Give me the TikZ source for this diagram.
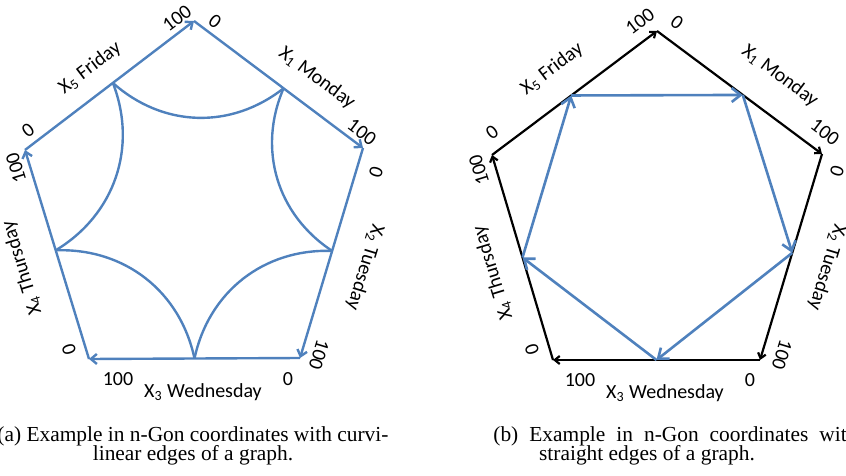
\documentclass[tikz,border=0pt]{standalone}
\usepackage{fontspec}
\setmainfont{Liberation Serif}
\newfontfamily\calfont{Carlito}
\usetikzlibrary{arrows.meta, calc}
\definecolor{dayBlue}{HTML}{4F81BD}

\begin{document}
\begin{tikzpicture}[x=0.5pt, y=-0.5pt,
    lab/.style={font=\calfont\fontsize{10}{12}\selectfont, inner sep=0pt},
    side/.style={dayBlue, line width=1.2pt, -{Straight Barb[length=3pt, width=5pt]}},
    blackside/.style={black, line width=1.1pt, -{Straight Barb[length=2.5pt, width=4pt]}},
    curve/.style={dayBlue, line width=1.2pt},
    link/.style={dayBlue, line width=1.3pt, -{Straight Barb[length=4.5pt, width=7pt]}},
    captext/.style={font=\fontsize{10.7}{12}\selectfont, inner sep=0pt}]
  \useasboundingbox (0,0) rectangle (846,476);
  \clip (0,0) rectangle (846,476);

  % (a) curvilinear edges
  \coordinate (L1) at (194,21);
  \coordinate (L2) at (363,148);
  \coordinate (L3) at (300,358);
  \coordinate (L4) at (89,359);
  \coordinate (L5) at (25,150);
  \draw[side] (L1) -- (L2);
  \draw[side] (L2) -- (L3);
  \draw[side] (L3) -- (L4);
  \draw[side] (L4) -- (L5);
  \draw[side] (L5) -- (L1);
  \coordinate (lmonmid) at ($(L1)!0.53!(L2)$);
  \coordinate (ltuemid) at ($(L2)!0.49!(L3)$);
  \coordinate (lwedmid) at ($(L3)!0.5!(L4)$);
  \coordinate (lthumid) at ($(L4)!0.52!(L5)$);
  \coordinate (lfrimid) at ($(L5)!0.52!(L1)$);
  \draw[curve] (lfrimid) to[bend right=40] (lmonmid);
  \draw[curve] (lmonmid) to[bend right=40] (ltuemid);
  \draw[curve] (ltuemid) to[bend right=40] (lwedmid);
  \draw[curve] (lwedmid) to[bend right=40] (lthumid);
  \draw[curve] (lthumid) to[bend right=40] (lfrimid);

  \node[lab, rotate=-37] (lmon) at (317,78) {X\textsubscript{1} Monday};
  \node[lab, rotate=-107] (ltue) at (365,267) {X\textsubscript{2} Tuesday};
  \node[lab] (lwed) at (203,392) {X\textsubscript{3} Wednesday};
  \node[lab, rotate=107] (lthu) at (22,268) {X\textsubscript{4} Thursday};
  \node[lab, rotate=37] (lfri) at (90,68) {X\textsubscript{5} Friday};
  \node[lab, rotate=-37] (lmon0) at (215,21) {0};
  \node[lab, rotate=-37] (lmon100) at (362,132) {100};
  \node[lab, rotate=-107] (ltue0) at (376,172) {0};
  \node[lab, rotate=-107] (ltue100) at (319,355) {100};
  \node[lab] (lwed0) at (288,379) {0};
  \node[lab] (lwed100) at (118,379) {100};
  \node[lab, rotate=107] (lthu0) at (69,350) {0};
  \node[lab, rotate=107] (lthu100) at (16,168) {100};
  \node[lab, rotate=37] (lfri0) at (28,130) {0};
  \node[lab, rotate=37] (lfri100) at (177,18) {100};

  % (b) straight edges
  \coordinate (R1) at (657,31);
  \coordinate (R2) at (822,154);
  \coordinate (R3) at (760,360);
  \coordinate (R4) at (553,360);
  \coordinate (R5) at (492,155);
  \draw[blackside] (R1) -- (R2);
  \draw[blackside] (R2) -- (R3);
  \draw[blackside] (R3) -- (R4);
  \draw[blackside] (R4) -- (R5);
  \draw[blackside] (R5) -- (R1);
  \coordinate (rmonmid) at ($(R1)!0.52!(R2)$);
  \coordinate (rtuemid) at ($(R2)!0.48!(R3)$);
  \coordinate (rwedmid) at ($(R3)!0.5!(R4)$);
  \coordinate (rthumid) at ($(R4)!0.5!(R5)$);
  \coordinate (rfrimid) at ($(R5)!0.48!(R1)$);
  \draw[link] (rfrimid) -- (rmonmid);
  \draw[link] (rmonmid) -- (rtuemid);
  \draw[link] (rtuemid) -- (rwedmid);
  \draw[link] (rwedmid) -- (rthumid);
  \draw[link] (rthumid) -- (rfrimid);

  \node[lab, rotate=-37] (rmon) at (780,76) {X\textsubscript{1} Monday};
  \node[lab, rotate=-107] (rtue) at (827,267) {X\textsubscript{2} Tuesday};
  \node[lab] (rwed) at (665,393) {X\textsubscript{3} Wednesday};
  \node[lab, rotate=107] (rthu) at (493,273) {X\textsubscript{4} Thursday};
  \node[lab, rotate=37] (rfri) at (552,69) {X\textsubscript{5} Friday};
  \node[lab, rotate=-37] (rmon0) at (677,22) {0};
  \node[lab, rotate=-37] (rmon100) at (825,132) {100};
  \node[lab, rotate=-107] (rtue0) at (837,171) {0};
  \node[lab, rotate=-107] (rtue100) at (782,355) {100};
  \node[lab] (rwed0) at (750,380) {0};
  \node[lab] (rwed100) at (580,380) {100};
  \node[lab, rotate=107] (rthu0) at (532,350) {0};
  \node[lab, rotate=107] (rthu100) at (479,170) {100};
  \node[lab, rotate=37] (rfri0) at (492,132) {0};
  \node[lab, rotate=37] (rfri100) at (640,21) {100};

  % captions
  \node[captext, anchor=base west] (capa1) at (-3,441) {(a) Example in n-Gon coordinates with curvi-};
  \node[captext, anchor=base] (capa2) at (193,460) {linear edges of a graph.};
  \node[captext, anchor=base west] (capb1) at (493,441) {\hbox to 182pt{(b) Example in n-Gon coordinates with}};
  \node[captext, anchor=base] (capb2) at (647,460) {straight edges of a graph.};
\end{tikzpicture}
\end{document}
